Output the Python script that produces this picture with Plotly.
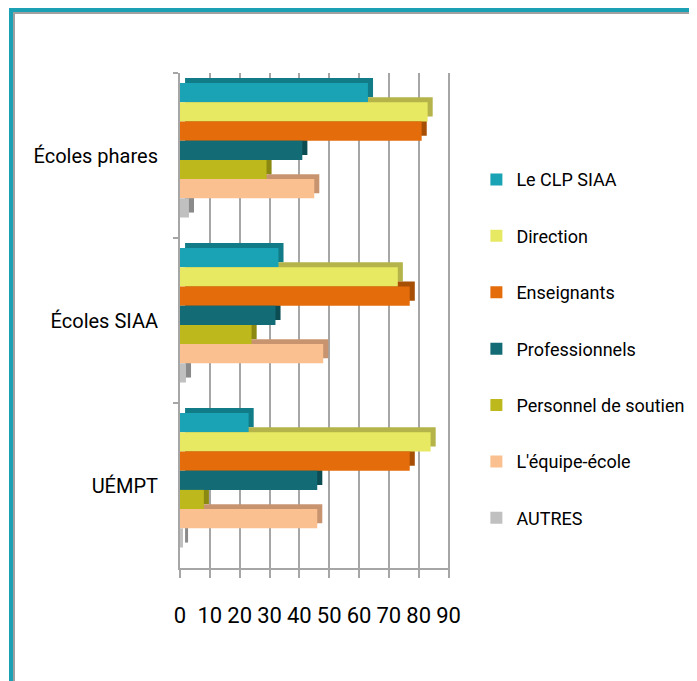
import plotly.graph_objects as go

# data
categories = ["Écoles phares", "Écoles SIAA", "UÉMPT"]
series_names = ["Le CLP SIAA", "Direction", "Enseignants", "Professionnels",
                "Personnel de soutien", "L'équipe-école", "AUTRES"]
clp_siaa = [63, 33, 23]
direction = [83, 73, 84]
enseignants = [81, 77, 77]
professionnels = [41, 32, 46]
personnel_soutien = [29, 24, 8]
equipe_ecole = [45, 48, 46]
autres = [3, 2, 1]
x_ticks = [0, 10, 20, 30, 40, 50, 60, 70, 80, 90]

values = [clp_siaa, direction, enseignants, professionnels,
          personnel_soutien, equipe_ecole, autres]
front_colors = ["#19A3B4", "#E8E963", "#E46C0A", "#136C75",
                "#BDB81B", "#FAC090", "#C0C0C0"]
side_colors = ["#117C88", "#B4B44A", "#A84F06", "#0C4C53",
               "#8C8912", "#C89470", "#8A8A8A"]

FONT = "Roboto, Liberation Sans, sans-serif"

# page body has an 8px margin, so everything below is in figure pixels
W, H = 697, 681
ML, MR, MT, MB = 172, 255, 65, 121
PW, PH = W - ML - MR, H - MT - MB

bar_w = 0.1164
first_off = -0.439
depth_x = 1.7    # fake 3D depth in x units
depth_y = 0.03   # fake 3D depth in category units

fig = go.Figure()

# back copies (give the top / side faces of the 3D look)
for i, name in enumerate(series_names):
    fig.add_trace(go.Bar(
        y=categories, x=values[i], base=depth_x, orientation="h",
        width=bar_w, offset=first_off + i * bar_w - depth_y,
        marker=dict(color=side_colors[i], line=dict(width=0)),
        showlegend=False, hoverinfo="skip"))

# front faces
for i, name in enumerate(series_names):
    fig.add_trace(go.Bar(
        y=categories, x=values[i], orientation="h", name=name,
        width=bar_w, offset=first_off + i * bar_w,
        marker=dict(color=front_colors[i], line=dict(width=0)),
        legendgroup=name))

# teal frame around the chart (left and top edges)
def px_x(p):
    return (p - ML) / PW

def px_y(p):
    return 1 - (p - MT) / PH

frame = [
    dict(x0=px_x(1), x1=px_x(5), y0=px_y(0), y1=px_y(H + 5), color="#1BA1B3"),
    dict(x0=px_x(1), x1=px_x(W + 5), y0=px_y(0), y1=px_y(4), color="#1BA1B3"),
    dict(x0=px_x(5), x1=px_x(7), y0=px_y(4), y1=px_y(H + 5), color="#A0A0A0"),
    dict(x0=px_x(5), x1=px_x(W + 5), y0=px_y(4), y1=px_y(6), color="#A0A0A0"),
]
for f in frame:
    fig.add_shape(type="rect", xref="paper", yref="paper",
                  x0=f["x0"], x1=f["x1"], y0=f["y0"], y1=f["y1"],
                  fillcolor=f["color"], line=dict(width=0), layer="above")

fig.update_layout(
    width=W, height=H,
    margin=dict(l=ML, r=MR, t=MT, b=MB, autoexpand=False),
    barmode="overlay",
    plot_bgcolor="white", paper_bgcolor="white",
    font=dict(family=FONT, color="black", size=19),
    legend=dict(xref="container", yref="container", x=0.672, y=0.775,
                xanchor="left", yanchor="top", traceorder="grouped",
                tracegroupgap=30, font=dict(size=18), itemwidth=30,
                maxheight=500),
    xaxis=dict(range=[0, 90.5], tickvals=x_ticks, showgrid=True,
               gridcolor="#A6A6A6", gridwidth=1.5, zeroline=False,
               showline=True, linecolor="#A6A6A6", linewidth=2,
               ticks="outside", ticklen=8, tickcolor="#A6A6A6", tickwidth=2,
               tickfont=dict(size=22), ticklabelstandoff=19, automargin=False),
    yaxis=dict(autorange="reversed", showgrid=False, zeroline=False,
               showline=True, linecolor="#A6A6A6", linewidth=2,
               ticks="outside", ticklen=5, tickcolor="#A6A6A6", tickwidth=2,
               tickson="boundaries", tickfont=dict(size=20),
               ticklabelstandoff=16, automargin=False),
)

fig.write_html("out.html")
